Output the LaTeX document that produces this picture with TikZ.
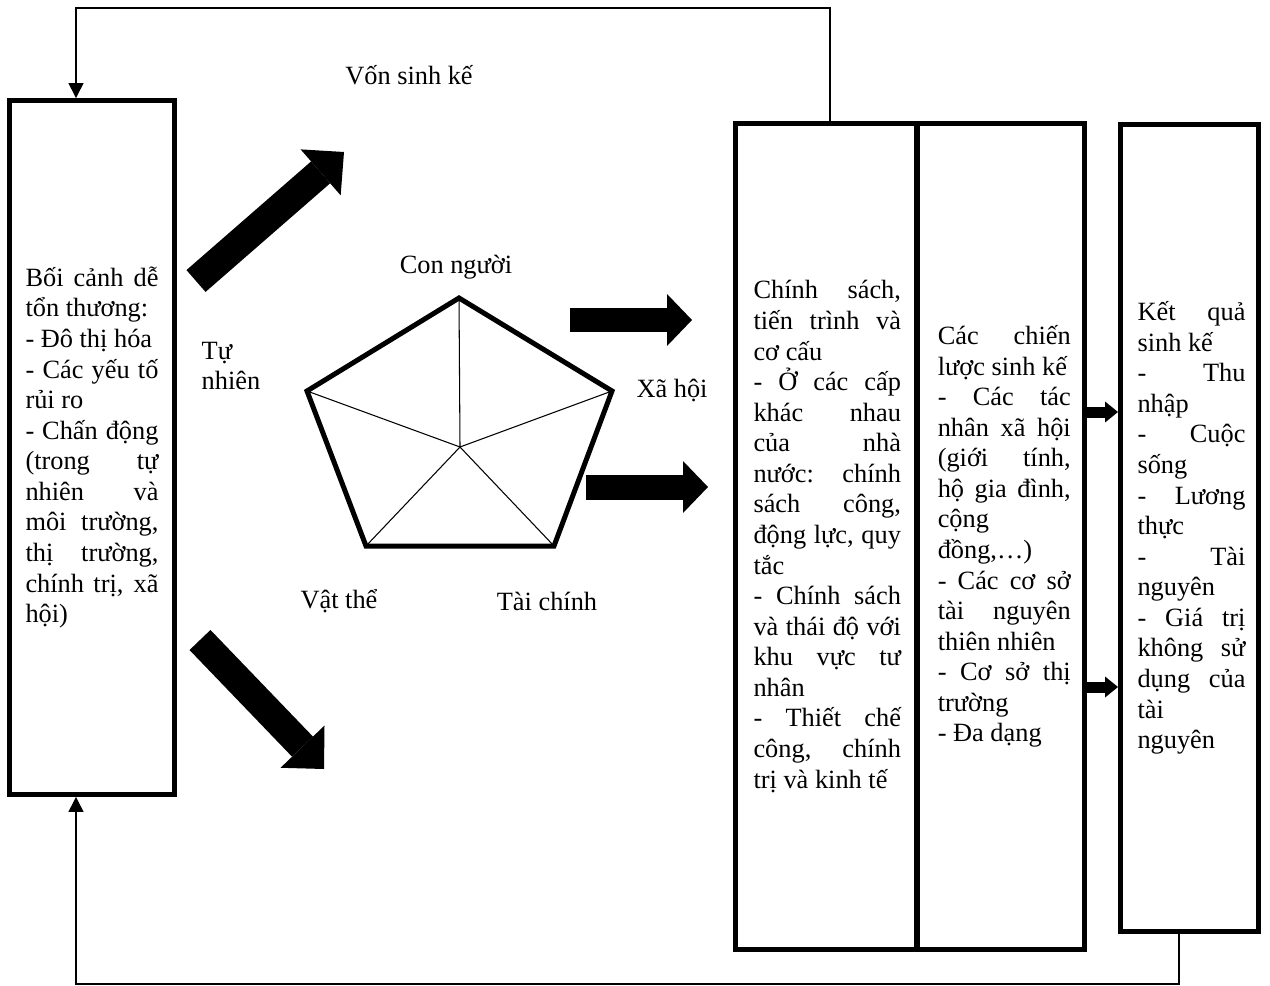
\documentclass[tikz,border=0pt]{standalone}
\usepackage{fontspec}
\setmainfont{Liberation Serif}
\usepackage{tikz}
\usetikzlibrary{arrows.meta}
\setlength{\parindent}{0pt}
\tolerance=10000
\hbadness=10000
\hyphenpenalty=10000
\exhyphenpenalty=10000
\tikzset{
  % framed text columns
  framebox/.style={rectangle, draw=black, line width=0.1cm, inner sep=0pt,
                   align=justify, font=\fontsize{15pt}{17.4pt}\selectfont},
  % free labels
  lbl/.style={font=\fontsize{15pt}{17.4pt}\selectfont, inner sep=1pt},
  % pentagon of assets
  penta/.style={draw=black, line width=0.1cm, line join=miter},
  spoke/.style={draw=black, line width=0.6pt},
  % black block arrows
  bigarrow/.style={line width=0.58cm,
                   -{Triangle[length=0.62cm 0 0, width=1.22cm 0 0, line width=0pt 0 0]}},
  midarrow/.style={line width=0.5cm,
                   -{Triangle[length=0.5cm 0 0, width=1.04cm 0 0, line width=0pt 0 0]}},
  tinyarrow/.style={line width=0.22cm,
                   -{Triangle[length=0.26cm 0 0, width=0.42cm 0 0, line width=0pt 0 0]}},
  % feedback loop lines
  fbline/.style={draw=black, line width=0.7pt, -{Triangle[length=0.3cm, width=0.3cm]}},
}

\begin{document}
\begin{tikzpicture}[x=0.02cm, y=-0.02cm]
\useasboundingbox (0,0) rectangle (1270,986);

% ── Columns ──────────────────────────────────────────────────────────────────
\node[framebox, minimum width=3.3cm, minimum height=13.88cm, text width=2.66cm]
  (leftbox) at (92,447.5)
  {Bối cảnh dễ\linebreak tổn thương:\par
   - Đô thị hóa\par
   - Các yếu tố\linebreak rủi ro\par
   - Chấn động\linebreak (trong tự\linebreak nhiên và\linebreak môi trường,\linebreak
   thị trường,\linebreak chính trị, xã\linebreak hội)\par};

\node[framebox, minimum width=3.63cm, minimum height=16.52cm, text width=3.0cm]
  (polbox) at (826,536.5)
  {\leftskip=0.05cm
   Chính sách,\linebreak tiến trình và\linebreak cơ cấu\par
   - Ở các cấp\linebreak khác nhau\linebreak của nhà\linebreak nước: chính\linebreak
   sách công,\linebreak động lực, quy\linebreak tắc\par
   - Chính sách\linebreak và thái độ với\linebreak khu vực tư\linebreak nhân\par
   - Thiết chế\linebreak công, chính\linebreak trị và kinh tế\par};

\node[framebox, minimum width=3.35cm, minimum height=16.52cm, text width=2.8cm]
  (stratbox) at (1000.75,536.5)
  {\leftskip=0.14cm
   Các chiến\linebreak lược sinh kế\par
   - Các tác\linebreak nhân xã hội\linebreak (giới tính,\linebreak hộ gia đình,\linebreak
   cộng\linebreak đồng,…)\par
   - Các cơ sở\linebreak tài nguyên\linebreak thiên nhiên\par
   - Cơ sở thị\linebreak trường\par
   - Đa dạng\par};

\node[framebox, minimum width=2.76cm, minimum height=16.14cm, text width=2.24cm]
  (outbox) at (1189.5,528)
  {\leftskip=0.08cm
   Kết quả\linebreak sinh kế\par
   - Thu\linebreak nhập\par
   - Cuộc\linebreak sống\par
   - Lương\linebreak thực\par
   - Tài\linebreak nguyên\par
   - Giá trị\linebreak không sử\linebreak dụng của\linebreak tài\linebreak nguyên\par};

% ── Pentagon of assets ───────────────────────────────────────────────────────
\coordinate (pTop) at (459,298);
\coordinate (pRight) at (612,391);
\coordinate (pLowR) at (554,546);
\coordinate (pLowL) at (366,546);
\coordinate (pLeft) at (307,391);
\coordinate (pMid) at (460,447);
\foreach \v in {pTop,pRight,pLowR,pLowL,pLeft}
  \draw[spoke] (pMid) -- (\v);
\draw[penta] (pTop) -- (pRight) -- (pLowR) -- (pLowL) -- (pLeft) -- cycle;

\node[lbl] (capital) at (409,75)  {Vốn sinh kế};
\node[lbl] (human)   at (456,267) {Con người};
\node[lbl, align=left] (natural) at (231,366) {Tự\\nhiên};
\node[lbl] (social)  at (672,391) {Xã hội};
\node[lbl] (physical) at (339,601) {Vật thể};
\node[lbl] (financial) at (547,601) {Tài chính};

% ── Block arrows ─────────────────────────────────────────────────────────────
\coordinate (upS) at (196,281);
\coordinate (upE) at (344,152);
\coordinate (dnS) at (200,640);
\coordinate (dnE) at (324,769);
\coordinate (r1S) at (570,320);
\coordinate (r1E) at (692,320);
\coordinate (r2S) at (586,487);
\coordinate (r2E) at (708,487);
\draw[bigarrow] (upS) -- (upE);
\draw[bigarrow] (dnS) -- (dnE);
\draw[midarrow] (r1S) -- (r1E);
\draw[midarrow] (r2S) -- (r2E);

% strategies -> outcomes
\coordinate (tA) at (0,412);
\coordinate (tB) at (0,687);
\draw[tinyarrow] (stratbox.east |- tA) -- (outbox.west |- tA);
\draw[tinyarrow] (stratbox.east |- tB) -- (outbox.west |- tB);

% ── Feedback loops ───────────────────────────────────────────────────────────
\coordinate (fbTop) at (830,8);
\coordinate (fbLeft) at (76,0);
\coordinate (fbBot) at (1179,984);
\draw[fbline] (polbox.north -| fbTop) -- (fbTop) -| (leftbox.north -| fbLeft);
\draw[fbline] (outbox.south -| fbBot) -- (fbBot) -| (leftbox.south -| fbLeft);

\end{tikzpicture}
\end{document}
